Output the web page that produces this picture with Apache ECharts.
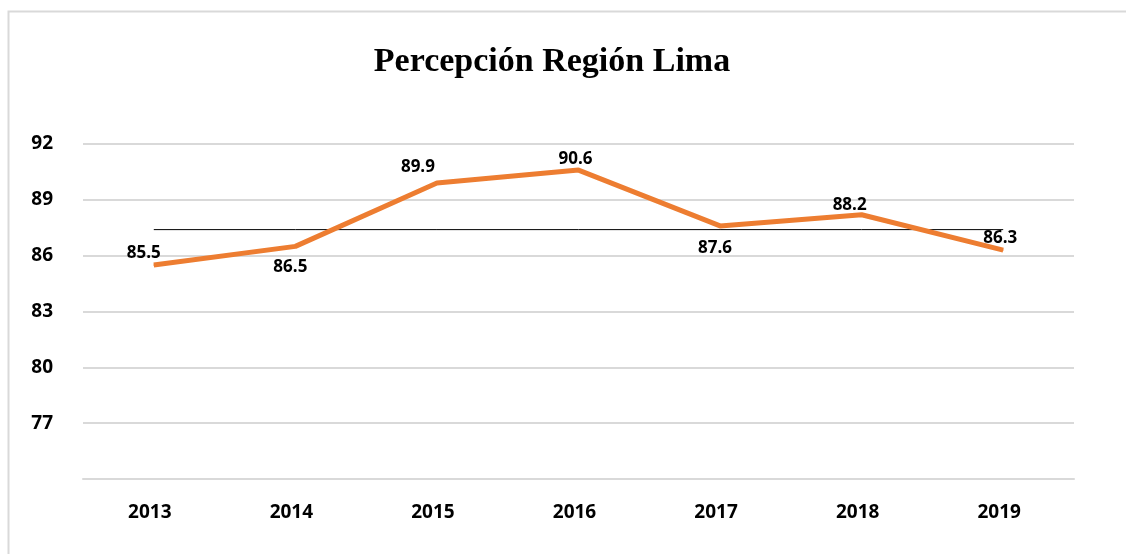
<!DOCTYPE html>
<html>
<head>
<meta charset="utf-8">
<script src="https://cdn.jsdelivr.net/npm/echarts@6/dist/echarts.min.js"></script>
<style>
  html, body { margin: 0; padding: 0; background: #fff; }
  #chart { width: 1126px; height: 554px; }
</style>
</head>
<body>
<div id="chart"></div>
<script>
// datos
var years = ['2013', '2014', '2015', '2016', '2017', '2018', '2019'];
var percepcion = [85.5, 86.5, 89.9, 90.6, 87.6, 88.2, 86.3];
var promedio = [87.4, 87.4, 87.4, 87.4, 87.4, 87.4, 87.4];
var yTicks = [74, 77, 80, 83, 86, 89, 92];

// desplazamiento de cada etiqueta respecto al punto
var labelOffsets = [[-10, -12], [-5, 21], [-19, -16], [-3, -11], [-5, 22], [-12, -10], [-3, -12]];

var chart = echarts.init(document.getElementById('chart'));

chart.setOption({
  backgroundColor: '#fff',
  animation: false,
  title: {
    text: 'Percepción Región Lima',
    left: 547,
    textAlign: 'center',
    top: 40,
    textStyle: {
      fontFamily: 'Liberation Serif',
      fontWeight: 'bold',
      fontSize: 34,
      color: '#000'
    }
  },
  graphic: [{
    type: 'rect',
    shape: { x: 8.5, y: 11.5, width: 1200, height: 600 },
    style: { fill: 'none', stroke: '#d9d9d9', lineWidth: 2 },
    silent: true
  }],
  grid: { left: 83, right: 52, top: 144, bottom: 75 },
  xAxis: {
    type: 'category',
    data: years,
    boundaryGap: true,
    axisLine: { lineStyle: { color: '#d9d9d9', width: 2 } },
    axisTick: { show: false },
    axisLabel: {
      margin: 24,
      color: '#000',
      fontFamily: 'Open Sans',
      fontWeight: 'bold',
      fontSize: 19,
      padding: [0, 8, 0, 0]
    }
  },
  yAxis: {
    type: 'value',
    min: yTicks[0],
    max: yTicks[yTicks.length - 1],
    interval: 3,
    axisLine: { show: false },
    axisTick: { show: false },
    splitLine: { lineStyle: { color: '#d9d9d9', width: 2 } },
    axisLabel: {
      margin: 30,
      color: '#000',
      fontFamily: 'Open Sans',
      fontWeight: 'bold',
      fontSize: 19,
      formatter: function (v) {
        return v === yTicks[0] ? '' : v;
      }
    }
  },
  series: [
    {
      name: 'Promedio',
      type: 'line',
      data: promedio,
      symbol: 'none',
      lineStyle: { color: '#000', width: 1 },
      z: 1
    },
    {
      name: 'Percepción',
      type: 'line',
      data: percepcion.map(function (v, i) {
        return {
          value: v,
          label: { offset: labelOffsets[i] }
        };
      }),
      symbol: 'circle',
      symbolSize: 1,
      itemStyle: { color: '#ed7d31' },
      lineStyle: { color: '#ed7d31', width: 5 },
      label: {
        show: true,
        position: 'inside',
        color: '#000',
        fontFamily: 'Open Sans',
        fontWeight: 'bold',
        fontSize: 17,
        formatter: function (p) { return p.value.toFixed(1); }
      },
      z: 2
    }
  ]
});
</script>
</body>
</html>
